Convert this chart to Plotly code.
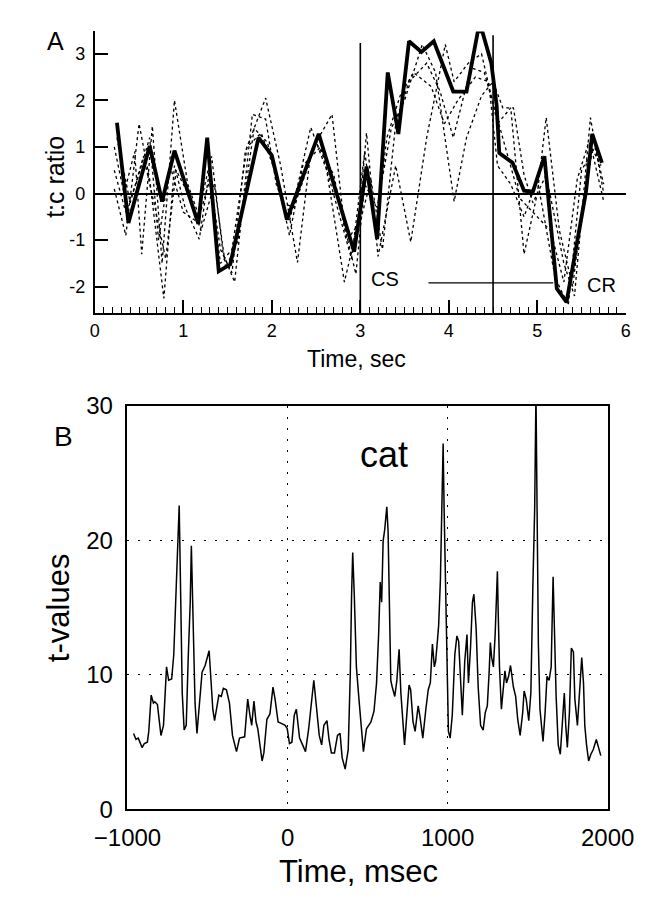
import plotly.graph_objects as go

W, H = 661, 901

# ---------------- Panel A data (t:c ratio vs time, sec) ----------------
a_thick_x = [0.25, 0.38, 0.62, 0.76, 0.90, 1.17, 1.27, 1.40, 1.53, 1.85, 2.00, 2.17, 2.53, 2.93, 3.07,
             3.19, 3.31, 3.43, 3.55, 3.69, 3.83, 4.05, 4.20, 4.33, 4.38, 4.48, 4.54, 4.57, 4.72, 4.85,
             4.95, 5.08, 5.22, 5.33, 5.55, 5.62, 5.73]
a_thick_y = [1.52, -0.63, 1.02, -0.17, 0.92, -0.65, 1.2, -1.67, -1.52, 1.2, 0.82, -0.56, 1.28, -1.25, 0.58,
             -0.98, 2.6, 1.28, 3.27, 3.04, 3.27, 2.19, 2.19, 3.5, 3.47, 2.8, 1.9, 0.87, 0.66, 0.06,
             0.04, 0.8, -2.04, -2.33, 0.04, 1.28, 0.66]

a_dot1_x = [0.22, 0.35, 0.50, 0.62, 0.78, 0.90, 1.02, 1.18, 1.32, 1.45, 1.58, 1.78, 1.93, 2.05, 2.20, 2.44,
            2.62, 2.82, 2.98, 3.07, 3.20, 3.40, 3.57, 3.75, 3.96, 4.06, 4.22, 4.37, 4.55, 4.70, 4.85, 5.00,
            5.10, 5.25, 5.40, 5.50, 5.62, 5.75]
a_dot1_y = [0.1, -0.9, 1.5, 0.3, -2.25, 0.6, -0.3, -0.98, 0.8, -1.3, -1.9, 1.7, 1.6, 0.2, -0.6, 1.42,
            0.5, -1.9, -0.6, 1.3, -1.35, 0.6, -1.04, 1.2, 3.2, 2.4, 2.8, 3.0, 1.5, 1.84, -1.3, 0.0,
            1.63, -0.8, -2.0, -0.4, 0.9, -0.17]

a_dot2_x = [0.22, 0.33, 0.45, 0.53, 0.65, 0.76, 0.90, 1.05, 1.18, 1.30, 1.42, 1.55, 1.70, 1.93, 2.10, 2.29,
            2.44, 2.68, 2.82, 2.95, 3.05, 3.19, 3.35, 3.50, 3.70, 3.85, 4.06, 4.20, 4.37, 4.50, 4.61, 4.73,
            4.85, 4.95, 5.10, 5.30, 5.42, 5.60, 5.75]
a_dot2_y = [1.0, 0.0, 0.9, -1.3, 1.45, -1.5, 2.0, 0.2, -0.5, 0.3, -1.2, -1.7, 0.9, 2.05, 0.6, -1.48,
            0.9, 1.7, -0.7, -1.73, 0.2, -0.3, 1.4, 2.0, 3.2, 2.6, -0.17, 1.2, 2.1, 2.4, 1.84, 1.84,
            0.4, -0.2, 0.4, -1.5, -2.2, 1.63, 0.0]

a_dot3_x = [0.22, 0.35, 0.48, 0.62, 0.72, 0.85, 1.00, 1.15, 1.28, 1.42, 1.55, 1.72, 1.88, 2.05, 2.20, 2.35,
            2.55, 2.75, 2.90, 3.05, 3.17, 3.30, 3.45, 3.60, 3.80, 3.95, 4.10, 4.30, 4.45, 4.55, 4.70, 4.85,
            5.00, 5.20, 5.35, 5.50, 5.65, 5.75]
a_dot3_y = [0.5, -0.4, 0.3, 1.2, -1.0, 0.6, -0.4, -0.6, 0.5, -1.5, -1.2, 1.0, 1.3, 0.4, -0.9, 0.6,
            1.0, -0.4, -1.4, 0.9, -0.8, 1.2, 2.1, 2.6, 2.3, 1.5, 2.0, 2.5, 2.4, 0.6, 0.2, -0.5,
            0.3, -1.8, -2.4, 0.5, 1.0, 0.2]

a_dot4_x = [0.25, 0.40, 0.55, 0.68, 0.80, 0.92, 1.08, 1.20, 1.35, 1.48, 1.62, 1.80, 1.95, 2.12, 2.25, 2.50,
            2.70, 2.85, 3.00, 3.12, 3.25, 3.40, 3.55, 3.75, 3.90, 4.05, 4.25, 4.40, 4.52, 4.65, 4.80, 4.95,
            5.15, 5.30, 5.45, 5.58, 5.72]
a_dot4_y = [1.2, -0.2, 0.8, -0.3, -1.4, 0.5, -0.1, -0.8, 0.2, -1.6, -1.0, 1.4, 1.1, -0.2, -0.3, 1.1,
            0.4, -1.0, -0.6, 0.3, -1.2, 1.5, 2.4, 2.8, 2.2, 1.2, 2.7, 2.6, 1.8, 0.9, -0.1, -0.4,
            -0.8, -1.9, 0.3, 1.1, 0.6]

a_xticks = [0, 1, 2, 3, 4, 5, 6]
a_yticks = [-2, -1, 0, 1, 2, 3]
a_ytick_text = ["-2", "-1", "0", "1", "2", "3"]
cs_time, cr_start = 3.0, 4.5
bar_x = [3.77, 5.18]
bar_y = -1.92

# ---------------- Panel B data (t-values vs time, msec) ----------------
b_time = [-962, -947, -933, -924, -909, -895, -876, -867, -852, -838, -829, -813, -791, -775, -756,
          -743, -724, -711, -695, -677, -665, -658, -646, -633, -620, -608, -601, -591, -578, -566,
          -553, -534, -515, -490, -467, -456, -429, -414, -401, -382, -363, -344, -319, -300, -268,
          -249, -235, -224, -210, -197, -186, -173, -159, -148, -129, -110, -91, -78, -59, -39,
          -15, -2, 12, 27, 42, 55, 75, 94, 112, 132, 151, 164, 179, 198, 213,
          227, 246, 259, 274, 293, 312, 328, 341, 360, 379, 392, 400, 407, 417, 430, 446,
          474, 493, 506, 521, 540, 556, 569, 579, 588, 597, 607, 620, 628, 636, 645,
          654, 670, 683, 697, 708, 721, 731, 746, 759, 769, 784, 797, 816, 826, 845,
          864, 879, 892, 905, 917, 925, 936, 944, 955, 965, 972, 978, 988, 997, 1005,
          1016, 1029, 1045, 1058, 1069, 1082, 1092, 1107, 1121, 1130, 1143, 1155, 1164, 1178, 1191,
          1206, 1222, 1235, 1248, 1259, 1267, 1275, 1286, 1297, 1301, 1311, 1316, 1324, 1336, 1349,
          1358, 1368, 1381, 1393, 1411, 1425, 1438, 1453, 1469, 1478, 1491, 1507, 1520, 1533, 1544,
          1552, 1560, 1567, 1577, 1596, 1609, 1621, 1634, 1647, 1659, 1667, 1678, 1691, 1704, 1720,
          1729, 1738, 1748, 1761, 1773, 1786, 1795, 1811, 1824, 1838, 1849, 1857, 1868, 1881, 1895,
          1910, 1929, 1944, 1957]
b_tval = [5.65, 5.2, 5.3, 5.0, 4.6, 4.9, 5.0, 5.8, 8.5, 7.9, 8.0, 7.8, 5.5, 6.25, 10.6,
          9.6, 9.7, 11.5, 17.5, 22.6, 13.9, 8.65, 5.9, 6.25, 11.5, 15.4, 19.6, 14.7, 7.9, 5.65,
          7.45, 10.2, 10.7, 11.8, 7.45, 6.6, 8.5, 8.4, 9.0, 8.9, 7.9, 5.5, 4.3, 5.3, 5.4,
          8.2, 7.0, 6.25, 8.05, 6.5, 6.0, 4.8, 3.6, 4.2, 6.7, 7.1, 9.1, 8.2, 6.5, 6.4,
          6.25, 6.0, 4.9, 5.0, 7.0, 7.45, 5.3, 4.8, 4.3, 6.0, 8.2, 9.6, 7.8, 5.5, 4.8,
          6.25, 6.6, 5.2, 4.2, 4.2, 5.5, 5.65, 3.85, 3.0, 4.45, 10.1, 15.9, 19.1, 15.9, 10.6, 8.2,
          4.3, 6.0, 6.25, 6.5, 7.3, 9.4, 13.0, 16.9, 15.4, 19.95, 20.8, 22.5, 20.7, 14.7, 9.6,
          9.1, 8.4, 9.6, 11.9, 8.65, 6.25, 4.8, 7.2, 9.25, 8.9, 6.5, 5.8, 7.7, 7.0, 5.3,
          7.45, 8.9, 9.4, 12.3, 10.6, 11.0, 12.5, 13.7, 17.1, 23.1, 27.2, 22.4, 16.3, 10.3, 5.8,
          5.3, 7.0, 11.5, 12.9, 12.5, 8.65, 7.0, 11.0, 13.0, 9.4, 12.0, 15.4, 16.0, 13.5, 9.1,
          6.25, 5.9, 7.2, 7.7, 10.1, 12.4, 11.3, 10.6, 13.0, 14.7, 17.7, 14.7, 10.6, 7.45, 9.1,
          10.3, 9.4, 9.9, 10.7, 9.1, 8.4, 6.7, 5.5, 7.2, 8.8, 8.2, 6.6, 8.65, 16.8, 22.4,
          31.0, 17.3, 12.3, 7.45, 5.05, 7.2, 9.9, 9.6, 10.6, 17.3, 13.7, 8.4, 4.8, 4.1, 7.0,
          8.65, 6.25, 4.6, 7.2, 12.0, 11.7, 8.2, 6.25, 8.65, 11.3, 9.4, 6.25, 4.8, 3.6, 4.1,
          4.45, 5.2, 4.45, 4.0]
b_xticks = [-1000, 0, 1000, 2000]
b_xtick_text = ["\u22121000", "0", "1000", "2000"]
b_yticks = [0, 10, 20, 30]


def px_x(p):
    return p / W


def px_y(p):
    return 1 - p / H


FONT = "Liberation Sans, Arial, Helvetica, sans-serif"

fig = go.Figure()

for xs, ys in [(a_dot1_x, a_dot1_y), (a_dot2_x, a_dot2_y), (a_dot3_x, a_dot3_y), (a_dot4_x, a_dot4_y)]:
    fig.add_trace(go.Scatter(x=xs, y=ys, mode="lines", xaxis="x", yaxis="y",
                             line=dict(color="black", width=1.3, dash="dot"), hoverinfo="skip"))
fig.add_trace(go.Scatter(x=a_thick_x, y=a_thick_y, mode="lines", xaxis="x", yaxis="y",
                         line=dict(color="black", width=3.8)))

fig.add_trace(go.Scatter(x=b_time, y=b_tval, mode="lines", xaxis="x2", yaxis="y2",
                         line=dict(color="black", width=1.5)))

shapes = [
    dict(type="line", xref="x", yref="y", x0=cs_time, x1=cs_time, y0=-2.56, y1=3.23,
         line=dict(color="black", width=1.6)),
    dict(type="line", xref="x", yref="y", x0=cr_start, x1=cr_start, y0=-2.62, y1=3.40,
         line=dict(color="black", width=1.6)),
    dict(type="line", xref="x", yref="y", x0=bar_x[0], x1=bar_x[1], y0=bar_y, y1=bar_y,
         line=dict(color="black", width=1.3)),
]

annotations = [
    dict(text="A", x=px_x(24), y=px_y(28), xref="paper", yref="paper", showarrow=False,
         font=dict(size=25, family=FONT, color="black"), xanchor="center", yanchor="middle"),
    dict(text="t:c ratio", x=px_x(23), y=px_y(168), xref="paper", yref="paper", showarrow=False,
         textangle=-90, font=dict(size=25, family=FONT, color="black"), xanchor="center", yanchor="middle"),
    dict(text="Time, sec", x=px_x(355), y=px_y(356), xref="paper", yref="paper", showarrow=False,
         font=dict(size=23, family=FONT, color="black"), xanchor="center", yanchor="middle"),
    dict(text="CS", x=3.28, y=-1.83, xref="x", yref="y", showarrow=False,
         font=dict(size=20, family=FONT, color="black"), xanchor="center", yanchor="middle"),
    dict(text="CR", x=5.72, y=-1.96, xref="x", yref="y", showarrow=False,
         font=dict(size=20, family=FONT, color="black"), xanchor="center", yanchor="middle"),
    dict(text="B", x=px_x(32), y=px_y(436), xref="paper", yref="paper", showarrow=False,
         font=dict(size=28, family=FONT, color="black"), xanchor="center", yanchor="middle"),
    dict(text="t-values", x=px_x(27), y=px_y(612), xref="paper", yref="paper", showarrow=False,
         textangle=-90, font=dict(size=31, family=FONT, color="black"), xanchor="center", yanchor="middle"),
    dict(text="Time, msec", x=px_x(357), y=px_y(884), xref="paper", yref="paper", showarrow=False,
         font=dict(size=31, family=FONT, color="black"), xanchor="center", yanchor="middle"),
    dict(text="cat", x=600, y=26.4, xref="x2", yref="y2", showarrow=False,
         font=dict(size=36, family=FONT, color="black"), xanchor="center", yanchor="middle"),
]

fig.update_layout(
    width=W, height=H,
    autosize=False,
    margin=dict(l=0, r=0, t=0, b=0, pad=0),
    paper_bgcolor="white", plot_bgcolor="white",
    showlegend=False,
    shapes=shapes,
    annotations=annotations,
    xaxis=dict(domain=[px_x(67), px_x(652)], range=[0, 6], anchor="y",
               showline=True, linecolor="black", linewidth=2,
               ticks="inside", ticklen=13, tickwidth=1.6, tickcolor="black",
               tickvals=a_xticks, showgrid=False, zeroline=False,
               tickfont=dict(size=18, family=FONT, color="black"), ticklabelstandoff=1,
               minor=dict(ticks="inside", ticklen=6, dtick=0.1, tickwidth=1.3,
                          tickcolor="black", showgrid=False)),
    yaxis=dict(domain=[px_y(308), px_y(18)], range=[-2.56, 3.48], anchor="x",
               showline=True, linecolor="black", linewidth=2,
               ticks="inside", ticklen=13, tickwidth=1.6, tickcolor="black",
               tickvals=a_yticks, ticktext=a_ytick_text, showgrid=False,
               zeroline=True, zerolinecolor="black", zerolinewidth=1.6,
               tickfont=dict(size=18, family=FONT, color="black"), ticklabelstandoff=4),
    xaxis2=dict(domain=[px_x(103), px_x(632)], range=[-1000, 2000], anchor="y2",
                showline=True, mirror=True, linecolor="black", linewidth=1.6,
                ticks="", tickvals=b_xticks, ticktext=b_xtick_text,
                showgrid=True, gridcolor="black", gridwidth=1, griddash="2px,9px",
                zeroline=False, tickfont=dict(size=24, family=FONT, color="black"),
                ticklabelstandoff=6),
    yaxis2=dict(domain=[px_y(820), px_y(404)], range=[0, 30], anchor="x2",
                showline=True, mirror=True, linecolor="black", linewidth=1.6,
                ticks="", tickvals=b_yticks,
                showgrid=True, gridcolor="black", gridwidth=1, griddash="2px,9px",
                zeroline=False, tickfont=dict(size=24, family=FONT, color="black"),
                ticklabelstandoff=8),
)

fig.write_html(
    "out.html",
    config={"displayModeBar": False},
    post_script="document.body.style.margin='0';document.body.style.padding='0';"
                "document.documentElement.style.overflow='hidden';",
)
